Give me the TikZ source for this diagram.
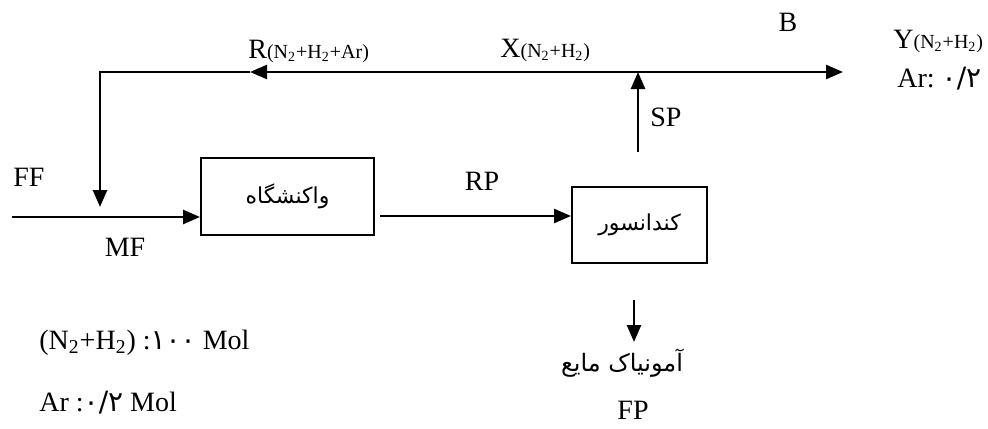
\documentclass[tikz,border=0pt]{standalone}
\usepackage{fontspec}
\setmainfont{Liberation Serif}
\newfontfamily\fa[Script=Arabic]{DejaVu Sans}
\TeXXeTstate=1
\usetikzlibrary{positioning,arrows.meta}
\newcommand\gasmix[1]{{\fontsize{10}{12}\selectfont(#1)}}

\begin{document}
\begin{tikzpicture}[
  x=0.5pt, y=-0.5pt,
  unit/.style={draw, line width=1pt, inner sep=0pt, font=\fa\fontsize{11}{13}\selectfont},
  flow/.style={-{Triangle[length=8.5pt,width=7pt]}, line width=1.3pt},
  lbl/.style={font=\fontsize{14}{16}\selectfont, inner sep=0pt},
  big/.style={font=\fontsize{14}{16}\selectfont, inner sep=0pt},
]
\useasboundingbox (0,0) rectangle (988,428);
% units
\node[unit, minimum width=86.5pt, minimum height=38.5pt] (reactor) at (287.5,196.5) {\beginR واکنشگاه\endR};
\node[unit, minimum width=67.5pt, minimum height=38pt] (cond) at (639.5,225) {\beginR کندانسور\endR};
% stream points
\coordinate (feed) at (12,217);
\coordinate (rpout) at (380,216);
\coordinate (spin) at (638,152);
\coordinate (split) at (638,72);
\coordinate (purge) at (843,72);
\coordinate (rmid) at (250,72);
\coordinate (corner) at (100,72);
\coordinate (mix) at (100,207);
\coordinate (fpin) at (634,300);
\coordinate (fpout) at (634,342);
% streams
\draw[flow] (feed) -- (feed -| reactor.west);
\draw[flow] (rpout) -- (rpout -| cond.west);
\draw[flow] (spin) -- (split);
\draw[flow] (split) -- (purge);
\draw[flow] (split) -- (rmid);
\draw[flow] (rmid) -- (corner) -- (mix);
\draw[flow] (fpin) -- (fpout);
% stream names
\node[lbl] (ff) at (29,177) {FF};
\node[lbl] (mf) at (125,247) {MF};
\node[lbl] (rp) at (482,181) {RP};
\node[lbl, anchor=west] (sp) at (650,117) {SP};
\node[big] (b) at (788,22) {B};
\node[big, anchor=base west] (r) at (248,58) {R\gasmix{N\textsubscript{2}+H\textsubscript{2}+Ar}};
\node[big, anchor=base west] (x) at (500,57) {X\gasmix{N\textsubscript{2}+H\textsubscript{2}}};
\node[big, anchor=base west] (y) at (893,48) {Y\gasmix{N\textsubscript{2}+H\textsubscript{2}}};
\node[lbl, anchor=base west] (yar) at (897,87) {Ar:\ {\fa ٠/٢}};
\node[font=\fa\fontsize{12}{14}\selectfont, inner sep=0pt] (nh3) at (622,363) {\beginR آمونیاک مایع\endR};
\node[lbl] (fp) at (633,410) {FP};
% fresh feed
\node[lbl, anchor=base west] (fn) at (39,349) {(N\textsubscript{2}+H\textsubscript{2}) :{\fa ١٠٠} Mol};
\node[lbl, anchor=base west] (far) at (39,411) {Ar :{\fa ٠/٢} Mol};
\end{tikzpicture}
\end{document}
